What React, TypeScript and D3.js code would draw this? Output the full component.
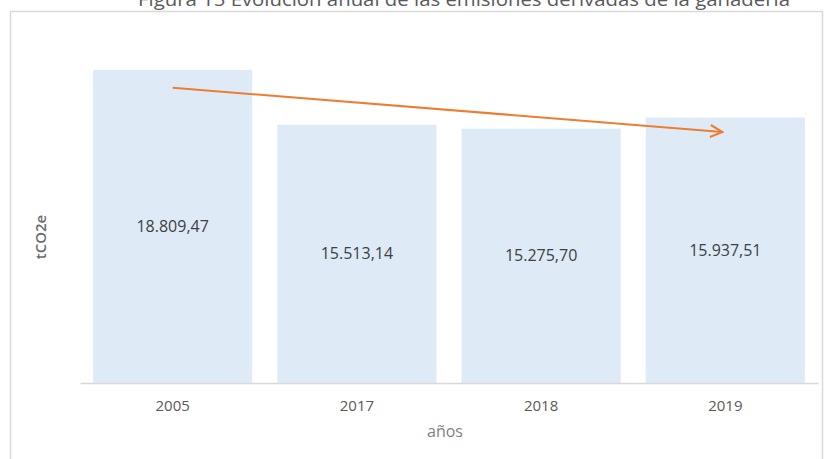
import { useEffect, useRef } from 'react';
import * as d3 from 'd3';

const years = ['2005', '2017', '2018', '2019'];
const emissions = [18809.47, 15513.14, 15275.7, 15937.51];
const valueLabels = ['18.809,47', '15.513,14', '15.275,70', '15.937,51'];

// trend arrow drawn by hand in the original, given in data units
const arrowYears = ['2005', '2019'];
const arrowValues = [17730, 15080];

const title = 'Figura 15 Evolución anual de las emisiones derivadas de la ganadería';
const xTitle = 'años';
const yTitle = 'tCO2e';

const FONT = '"Open Sans", "Noto Sans", sans-serif';

export default function App() {
  const ref = useRef<SVGSVGElement | null>(null);

  useEffect(() => {
    const el = ref.current;
    if (!el) return;
    const width = 825;
    const height = 459;

    const svg = d3.select(el);
    svg.selectAll('*').remove();

    const margin = { top: 50, right: 7, bottom: 76, left: 80 };
    const innerWidth = width - margin.left - margin.right;
    const innerHeight = height - margin.top - margin.bottom;

    // frame around the figure
    svg
      .append('rect')
      .attr('x', 10.5)
      .attr('y', 11.5)
      .attr('width', 812)
      .attr('height', 470)
      .attr('fill', 'none')
      .attr('stroke', '#d9d9d9')
      .attr('stroke-width', 1.5);

    // the title sits half outside the top edge, as in the source figure
    svg
      .append('text')
      .attr('x', 464)
      .attr('y', 6)
      .attr('text-anchor', 'middle')
      .attr('fill', '#595959')
      .attr('font-size', 19)
      .attr('textLength', 652)
      .attr('lengthAdjust', 'spacingAndGlyphs')
      .attr('font-family', FONT)
      .text(title);

    const chart = svg.append('g').attr('transform', `translate(${margin.left}, ${margin.top})`);

    const x = d3.scaleBand().domain(years).range([0, innerWidth]).paddingInner(0.136).paddingOuter(0.071);
    const y = d3.scaleLinear().domain([0, 20000]).range([innerHeight, 0]);

    const bars = chart
      .selectAll('.bar')
      .data(years)
      .join('g')
      .attr('class', 'bar');

    bars
      .append('rect')
      .attr('x', (d) => x(d) ?? 0)
      .attr('y', (d, i) => y(emissions[i]))
      .attr('width', x.bandwidth())
      .attr('height', (d, i) => innerHeight - y(emissions[i]))
      .attr('fill', '#deebf7');

    bars
      .append('text')
      .attr('x', (d) => (x(d) ?? 0) + x.bandwidth() / 2)
      .attr('y', (d, i) => (y(emissions[i]) + innerHeight) / 2)
      .attr('dy', '0.35em')
      .attr('text-anchor', 'middle')
      .attr('fill', '#404040')
      .attr('font-size', 16)
      .attr('font-family', FONT)
      .text((d, i) => valueLabels[i]);

    const xAxis = chart
      .append('g')
      .attr('transform', `translate(0, ${innerHeight})`)
      .call(d3.axisBottom(x).tickSize(0).tickPadding(17));
    xAxis.select('.domain').attr('stroke', '#d9d9d9').attr('stroke-width', 1.5);
    xAxis
      .selectAll('text')
      .attr('fill', '#595959')
      .attr('font-size', 15)
      .attr('font-family', FONT);

    chart
      .append('text')
      .attr('x', innerWidth / 2 - 4)
      .attr('y', innerHeight + 54)
      .attr('text-anchor', 'middle')
      .attr('fill', '#7f7f7f')
      .attr('font-size', 16)
      .attr('font-family', FONT)
      .text(xTitle);

    svg
      .append('text')
      .attr('transform', `translate(46, 237) rotate(-90)`)
      .attr('text-anchor', 'middle')
      .attr('fill', '#6b6b6b')
      .attr('font-size', 15)
      .attr('font-weight', 600)
      .attr('font-family', FONT)
      .text(yTitle);

    // trend arrow
    const defs = svg.append('defs');
    defs
      .append('marker')
      .attr('id', 'arrow-head')
      .attr('viewBox', '0 0 10 10')
      .attr('refX', 9)
      .attr('refY', 5)
      .attr('markerWidth', 15)
      .attr('markerHeight', 15)
      .attr('markerUnits', 'userSpaceOnUse')
      .attr('orient', 'auto')
      .append('path')
      .attr('d', 'M1,1 L9,5 L1,9')
      .attr('fill', 'none')
      .attr('stroke', '#ed7d31')
      .attr('stroke-width', 1.4);

    const ax = arrowYears.map((d) => (x(d) ?? 0) + x.bandwidth() / 2);
    chart
      .append('line')
      .attr('x1', ax[0])
      .attr('y1', y(arrowValues[0]))
      .attr('x2', ax[1] - 3)
      .attr('y2', y(arrowValues[1]))
      .attr('stroke', '#ed7d31')
      .attr('stroke-width', 2)
      .attr('marker-end', 'url(#arrow-head)');
  }, []);

  return (
    <svg
      ref={ref}
      width={825}
      height={459}
      style={{ position: 'absolute', left: 0, top: 0, background: '#ffffff' }}
    />
  );
}
